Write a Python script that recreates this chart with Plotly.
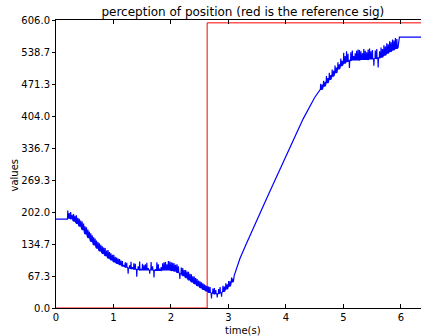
import plotly.graph_objects as go

# Reference (command) signal: step from 0 to 600 at t = 2.63 s
ref_t = [0.0, 2.63, 2.63, 6.5]
ref_v = [0.0, 0.0, 600.0, 600.0]

# Perceived position. Noisy stretches are stored as a baseline value every
# 0.05 s plus the peaks of the two short sensor spikes that follow it.
flat_start_t = [0.0, 0.2]
flat_start_v = [187, 187]

fall_t0 = 0.2
fall_base = [
    189, 188, 183, 178, 172, 165, 156, 148, 140, 133,
    126, 120, 115, 110, 105, 101, 97, 94, 91, 88,
    86, 84, 83, 82, 81, 80, 80, 80, 80, 80,
    79, 79, 79, 80, 80, 80, 79, 78, 75, 72,
    68, 64, 59, 55, 51, 47, 43, 39, 36, 33,
    31, 30, 30, 32, 35, 40, 46, 55,
]
fall_peak_a = [
    205, 202, 198, 195, 188, 182, 172, 165, 157, 149,
    142, 136, 130, 126, 122, 115, 112, 106, 103, 99,
    96, 72, 97, 94, 66, 98, 93, 92, 84, 97,
    64, 96, 83, 94, 97, 99, 96, 94, 92, 61,
    84, 80, 76, 71, 66, 61, 56, 52, 48, 45,
    20, 42, 22, 44, 47, 52, 57, 64,
]
fall_peak_b = [
    200, 196, 194, 190, 184, 178, 170, 161, 153, 146,
    139, 133, 127, 121, 118, 112, 108, 104, 100, 91,
    95, 90, 86, 93, 88, 82, 90, 95, 72, 88,
    82, 92, 86, 96, 92, 98, 95, 91, 88, 85,
    80, 77, 72, 67, 63, 58, 54, 50, 46, 44,
    41, 38, 40, 24, 45, 50, 56, 62,
]

rise_t = [3.1, 3.2, 3.3, 3.4, 3.5, 3.6, 3.7, 3.8, 3.9, 4.0,
          4.1, 4.2, 4.3, 4.4, 4.5]
rise_v = [68, 104, 132, 160, 187, 213, 240, 267, 294, 320,
          346, 372, 398, 421, 443]

top_t0 = 4.6
top_base = [
    460, 467, 474, 481, 488, 495, 503, 510, 515, 519,
    521, 522, 522, 522, 523, 523, 523, 524, 524, 525,
    526, 528, 532, 536, 540, 543, 546,
]
top_peak_a = [
    472, 478, 488, 495, 502, 510, 517, 525, 537, 540,
    505, 542, 536, 544, 540, 545, 538, 546, 543, 542,
    506, 548, 553, 557, 561, 565, 568,
]
top_peak_b = [
    470, 476, 484, 490, 499, 506, 513, 520, 530, 535,
    538, 530, 541, 543, 536, 541, 544, 540, 510, 545,
    540, 545, 550, 555, 559, 563, 566,
]

hold_t = [5.95, 5.975, 6.5]
hold_v = [548, 570, 570]

y_tick_vals = [0.0, 67.33, 134.67, 202.0, 269.33, 336.67, 404.0, 471.33, 538.67, 606.0]
y_tick_text = ["0.0", "67.3", "134.7", "202.0", "269.3", "336.7",
               "404.0", "471.3", "538.7", "606.0"]
x_tick_vals = [0, 1, 2, 3, 4, 5, 6]

PAIR_DT = 0.05      # spacing between baseline samples in the noisy stretches
SPIKE_W = 0.005     # duration of a single sensor spike


def spiky(t0, base, peak_a, peak_b):
    """Expand baseline samples and spike peaks into a trace with narrow spikes."""
    ts, vs = [], []
    for j, (b, pa, pb) in enumerate(zip(base, peak_a, peak_b)):
        t = t0 + PAIR_DT * j
        h = t + PAIR_DT / 2
        ts += [t, t + SPIKE_W, t + 2 * SPIKE_W, h, h + SPIKE_W, h + 2 * SPIKE_W]
        vs += [b, pa, b, b, pb, b]
    return ts, vs


fall_ts, fall_vs = spiky(fall_t0, fall_base, fall_peak_a, fall_peak_b)
top_ts, top_vs = spiky(top_t0, top_base, top_peak_a, top_peak_b)

sig_t = flat_start_t + fall_ts + rise_t + top_ts + hold_t
sig_v = flat_start_v + fall_vs + rise_v + top_vs + hold_v

FONT = "DejaVu Sans"

fig = go.Figure()
fig.add_trace(go.Scatter(x=ref_t, y=ref_v, mode="lines",
                         line=dict(color="#ff0000", width=1), hoverinfo="skip"))
fig.add_trace(go.Scatter(x=sig_t, y=sig_v, mode="lines",
                         line=dict(color="#0000ff", width=1.2), hoverinfo="skip"))

fig.update_layout(
    width=421, height=336,
    margin=dict(l=56, r=0, t=20, b=28),
    paper_bgcolor="white", plot_bgcolor="white",
    showlegend=False,
    font=dict(family=FONT, size=10, color="black"),
    title=dict(text="perception of position (red is the reference sig)",
               x=0.512, xref="paper", xanchor="center",
               y=1, yref="paper", yanchor="bottom",
               pad=dict(b=4), font=dict(size=12, family=FONT, color="black")),
    xaxis=dict(range=[0, 6.35], tickvals=x_tick_vals, ticks="inside",
               ticklen=4, tickcolor="black", showline=True, linecolor="black",
               linewidth=1, mirror="ticks", showgrid=False, zeroline=False,
               tickfont=dict(size=10)),
    yaxis=dict(range=[0, 606], tickvals=y_tick_vals, ticktext=y_tick_text,
               ticks="outside", ticklen=3, tickcolor="black", showline=True,
               linecolor="black", linewidth=1, mirror=False, showgrid=False,
               zeroline=False, tickfont=dict(size=10)),
    annotations=[
        dict(text="time(s)", xref="paper", yref="paper", x=0.512, y=0,
             yshift=-22, xanchor="center", yanchor="middle", showarrow=False,
             font=dict(size=10)),
        dict(text="values", xref="paper", yref="paper", x=0, y=0.46,
             xshift=-41, xanchor="center", yanchor="middle", textangle=-90,
             showarrow=False, font=dict(size=10)),
    ],
)

fig.write_html("out.html")
